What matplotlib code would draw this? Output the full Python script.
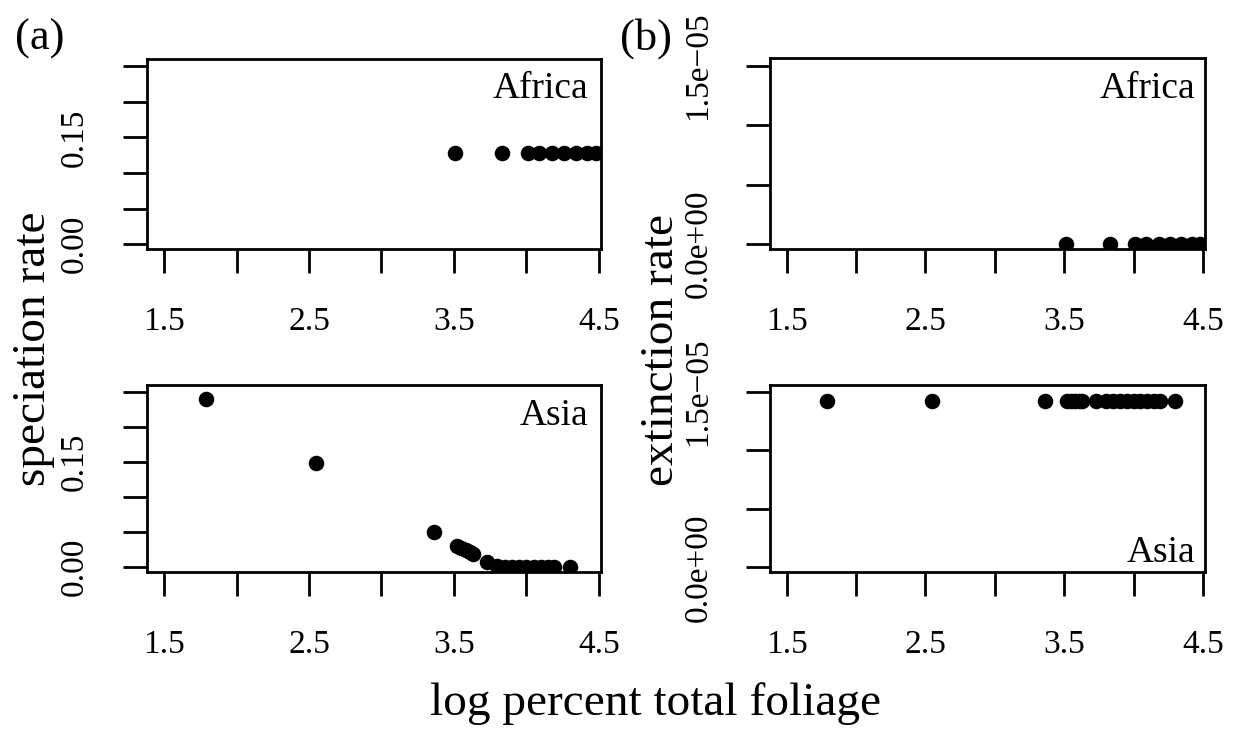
import matplotlib
matplotlib.use("Agg")
import matplotlib.pyplot as plt

plt.rcParams['font.family'] = ['Liberation Serif', 'DejaVu Serif']

# data
africa_x = [3.51, 3.83, 4.01, 4.09, 4.18, 4.26, 4.34, 4.42, 4.48]
africa_spec = [0.128, 0.128, 0.128, 0.128, 0.128, 0.128, 0.128, 0.128, 0.128]
africa_ext = [0.0, 0.0, 0.0, 0.0, 0.0, 0.0, 0.0, 0.0, 0.0]

asia_x = [1.79, 2.55, 3.36, 3.52, 3.55, 3.58, 3.61, 3.63, 3.73, 3.80,
          3.85, 3.90, 3.95, 4.00, 4.05, 4.10, 4.15, 4.19, 4.30]
asia_spec = [0.239, 0.148, 0.050, 0.030, 0.027, 0.024, 0.021, 0.018, 0.007, 0.001,
             0.0, 0.0, 0.0, 0.0, 0.0, 0.0, 0.0, 0.0, 0.0]
asia_ext = [1.42e-5, 1.42e-5, 1.42e-5, 1.42e-5, 1.42e-5, 1.42e-5, 1.42e-5, 1.42e-5,
            1.42e-5, 1.42e-5, 1.42e-5, 1.42e-5, 1.42e-5, 1.42e-5, 1.42e-5, 1.42e-5,
            1.42e-5, 1.42e-5, 1.42e-5]

x_ticks = [1.5, 2.0, 2.5, 3.0, 3.5, 4.0, 4.5]
x_labels = ['1.5', '', '2.5', '', '3.5', '', '4.5']
spec_ticks = [0.0, 0.05, 0.10, 0.15, 0.20, 0.25]
spec_labels = ['0.00', '', '', '0.15', '', '']
ext_ticks = [0.0, 5e-6, 1e-5, 1.5e-5]
ext_labels = ['0.0e+00', '', '', '1.5e\u221205']

W, H = 1235, 730
fig = plt.figure(figsize=(W / 100, H / 100), dpi=100)


def px_axes(left, top, right, bottom):
    return fig.add_axes([left / W, 1 - bottom / H, (right - left) / W, (bottom - top) / H])


def style(ax, ylim, yticks, ylabels):
    ax.set_xlim(1.38, 4.515)
    ax.set_ylim(*ylim)
    ax.set_xticks(x_ticks)
    ax.set_xticklabels(x_labels)
    ax.set_yticks(yticks)
    ax.set_yticklabels(ylabels, rotation=90, va='center')
    ax.tick_params(direction='out', length=17.3, width=2, labelsize=24)
    ax.tick_params(axis='x', pad=24)
    ax.tick_params(axis='y', pad=23.5)
    for s in ax.spines.values():
        s.set_linewidth(2)


ax1 = px_axes(146.7, 59.3, 601, 249.4)
ax1.scatter(africa_x, africa_spec, s=125, color='black', linewidths=0)
style(ax1, (-0.0073, 0.2595), spec_ticks, spec_labels)

ax2 = px_axes(146.7, 385, 601, 571.7)
ax2.scatter(asia_x, asia_spec, s=125, color='black', linewidths=0)
style(ax2, (-0.0073, 0.2595), spec_ticks, spec_labels)

ax3 = px_axes(770, 58.3, 1205, 249.3)
ax3.scatter(africa_x, africa_ext, s=125, color='black', linewidths=0)
style(ax3, (-4.3e-7, 1.563e-5), ext_ticks, ext_labels)

ax4 = px_axes(770, 385, 1205, 571.7)
ax4.scatter(asia_x, asia_ext, s=125, color='black', linewidths=0)
style(ax4, (-3.6e-7, 1.558e-5), ext_ticks, ext_labels)

# region names
fig.text(588 / W, 1 - 97.5 / H, 'Africa', fontsize=27, ha='right', va='baseline')
fig.text(588 / W, 1 - 425 / H, 'Asia', fontsize=27, ha='right', va='baseline')
fig.text(1195 / W, 1 - 97.5 / H, 'Africa', fontsize=27, ha='right', va='baseline')
fig.text(1195 / W, 1 - 561.7 / H, 'Asia', fontsize=27, ha='right', va='baseline')

# panel letters and axis titles
fig.text(15 / W, 1 - 50 / H, '(a)', fontsize=32, ha='left', va='baseline')
fig.text(620 / W, 1 - 50 / H, '(b)', fontsize=32, ha='left', va='baseline')
fig.text(34 / W, 1 - 349 / H, 'speciation rate', fontsize=34, rotation=90,
         ha='center', va='center')
fig.text(662 / W, 1 - 350 / H, 'extinction rate', fontsize=34, rotation=90,
         ha='center', va='center')
fig.text(656 / W, 1 - 715 / H, 'log percent total foliage', fontsize=34,
         ha='center', va='baseline')

fig.savefig('out.png', dpi=100)
